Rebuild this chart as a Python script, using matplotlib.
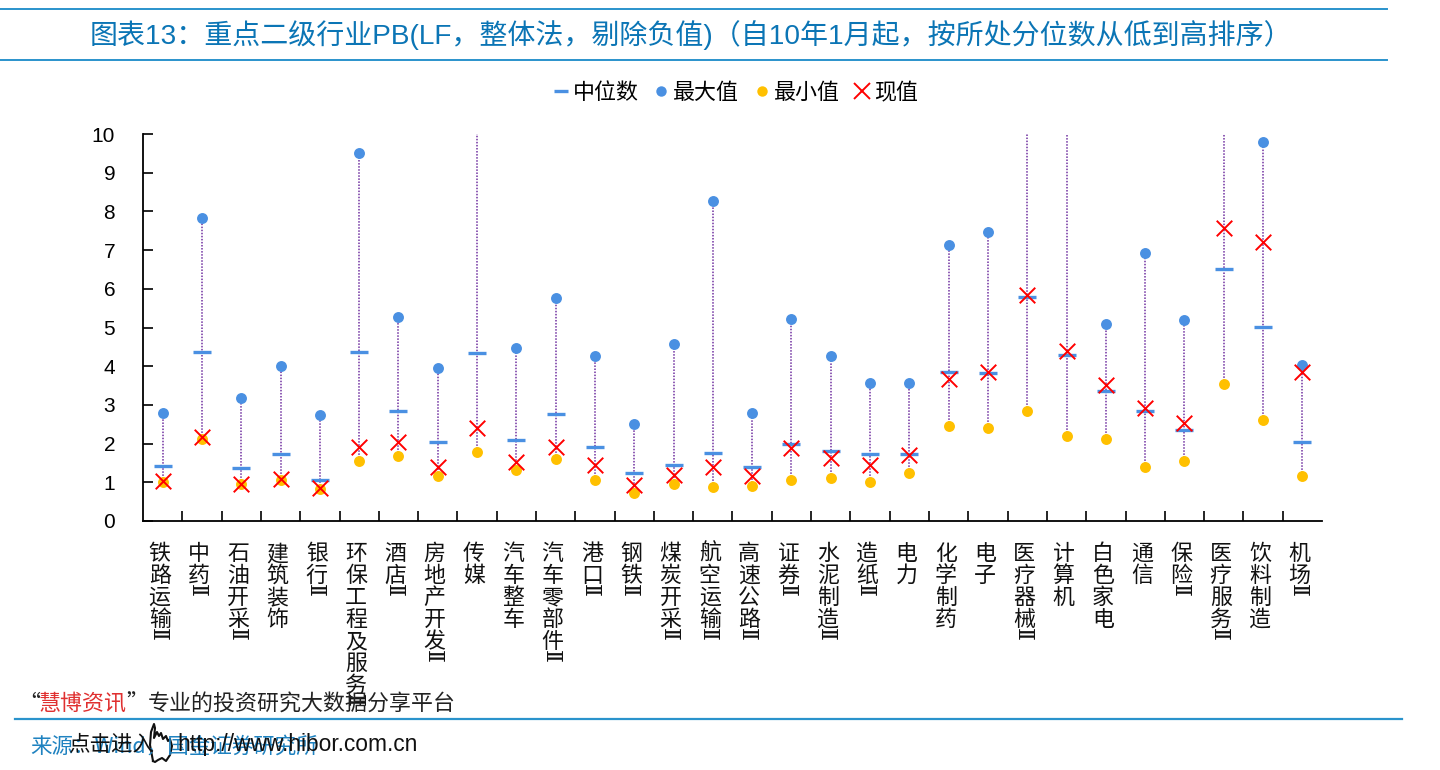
from matplotlib import pyplot as plt
from matplotlib.lines import Line2D

plt.rcParams['font.family'] = ['Noto Sans CJK SC', 'DejaVu Sans']

# the trailing numeral of a name overlaps the character above it, so it is kept apart
names = ['铁路运输', '中药', '石油开采', '建筑装饰', '银行', '环保工程及服务', '酒店', '房地产开发', '传媒', '汽车整车',
         '汽车零部件', '港口', '钢铁', '煤炭开采', '航空运输', '高速公路', '证券', '水泥制造', '造纸', '电力',
         '化学制药', '电子', '医疗器械', '计算机', '白色家电', '通信', '保险', '医疗服务', '饮料制造', '机场']
has_suffix = [1, 1, 1, 0, 1, 1, 1, 1, 0, 0,
              1, 1, 1, 1, 1, 1, 1, 1, 1, 0,
              0, 0, 1, 0, 0, 0, 1, 1, 0, 1]
# 传媒, 医疗器械, 计算机 and 医疗服务 run off the top of the axis
max_vals = [2.8, 7.83, 3.18, 4.0, 2.75, 9.5, 5.27, 3.96, 12, 4.46,
            5.75, 4.27, 2.5, 4.58, 8.28, 2.8, 5.23, 4.27, 3.57, 3.57,
            7.13, 7.47, 12, 12, 5.08, 6.93, 5.2, 12, 9.8, 4.03]
median_vals = [1.42, 4.36, 1.37, 1.72, 1.07, 4.37, 2.85, 2.03, 4.33, 2.1,
               2.77, 1.92, 1.25, 1.45, 1.77, 1.4, 2.0, 1.8, 1.72, 1.72,
               3.85, 3.83, 5.8, 4.3, 3.35, 2.85, 2.35, 6.52, 5.02, 2.03]
min_vals = [1.02, 2.12, 0.95, 1.05, 0.82, 1.55, 1.67, 1.17, 1.78, 1.33,
            1.6, 1.05, 0.72, 0.95, 0.87, 0.9, 1.05, 1.12, 1.02, 1.25,
            2.45, 2.4, 2.83, 2.2, 2.13, 1.4, 1.55, 3.53, 2.62, 1.17]
now_vals = [1.03, 2.17, 0.95, 1.08, 0.85, 1.9, 2.03, 1.4, 2.4, 1.52,
            1.92, 1.45, 0.93, 1.18, 1.4, 1.15, 1.88, 1.63, 1.45, 1.7,
            3.67, 3.85, 5.83, 4.4, 3.52, 2.92, 2.52, 7.57, 7.22, 3.85]
y_ticks = list(range(11))

W, H = 1440, 770
BLUE = '#4a90e2'
LINE = '#2a93cc'
LATIN = ['Liberation Sans', 'Noto Sans CJK SC']


def fx(px):
    return px / W


def fy(px):
    return 1 - px / H


fig = plt.figure(figsize=(W / 100, H / 100), dpi=100)
ax = fig.add_axes([fx(143), fy(521), fx(1322 - 143), (521 - 134) / H])
xs = list(range(len(names)))

ax.vlines(xs, min_vals, max_vals, color='#7030a0', lw=1.1, linestyles=(0, (1, 1)), zorder=1)
ax.scatter(xs, median_vals, marker='_', s=150, color=BLUE, linewidths=2.4, zorder=2)
ax.scatter(xs, max_vals, marker='o', s=62, color=BLUE, linewidths=0, zorder=3)
ax.scatter(xs, min_vals, marker='o', s=62, color='#ffc000', linewidths=0, zorder=3)
ax.scatter(xs, now_vals, marker='x', s=125, color='#ff0000', linewidths=1.4, zorder=4)

ax.set_xlim(-0.5, len(names) - 0.5)
ax.set_ylim(0, 10)
ax.set_yticks(y_ticks)
ax.tick_params(axis='y', direction='in', length=7, width=1.2, labelsize=15, pad=20)
for lab in ax.get_yticklabels():
    lab.set_family(LATIN)
ax.set_xticks([i - 0.5 for i in range(1, len(names))])
ax.set_xticklabels([])
ax.tick_params(axis='x', direction='in', length=7, width=1.2)
ax.spines['top'].set_visible(False)
ax.spines['right'].set_visible(False)
ax.spines['left'].set_linewidth(1.3)
ax.spines['bottom'].set_linewidth(1.3)

# category names, written top to bottom
trans = ax.get_xaxis_transform()
for i, name in enumerate(names):
    y = -33
    for ch in name:
        ax.annotate(ch, xy=(i, 0), xycoords=trans, xytext=(-3, y), textcoords='offset pixels',
                    ha='center', va='center', fontsize=15.8, color='#111111', annotation_clip=False)
        y -= 22
    if has_suffix[i]:
        # the serif numeral on its side gives the boxy shape of the original
        ax.annotate('Ⅱ', xy=(i, 0), xycoords=trans, xytext=(1, y + 10), textcoords='offset pixels',
                    ha='center', va='center', fontsize=16, rotation=90, color='#111111',
                    annotation_clip=False, family='DejaVu Serif')

handles = [
    Line2D([], [], marker='_', ls='', color=BLUE, ms=10.5, mew=2.4),
    Line2D([], [], marker='o', ls='', color=BLUE, ms=7.5, mew=0),
    Line2D([], [], marker='o', ls='', color='#ffc000', ms=7.5, mew=0),
    Line2D([], [], marker='x', ls='', color='#ff0000', ms=11, mew=1.4),
]
fig.legend(handles, ['中位数', '最大值', '最小值', '现值'], ncol=4, frameon=False, fontsize=15.8,
           loc='center', bbox_to_anchor=(fx(734), fy(93)), handletextpad=0.05, columnspacing=0.52,
           handlelength=1.0, borderpad=0, borderaxespad=0)

# title band
fig.add_artist(Line2D([0, fx(1387)], [fy(8.5), fy(8.5)], color=LINE, lw=1.4))
fig.add_artist(Line2D([0, fx(1387)], [fy(60), fy(60)], color=LINE, lw=1.4))
fig.text(fx(90), fy(35), '图表13：重点二级行业PB(LF，整体法，剔除负值)（自10年1月起，按所处分位数从低到高排序）',
         fontsize=20.15, color='#0b75b5', va='center', ha='left', family=LATIN)

# footer
fig.add_artist(Line2D([fx(15), fx(1402)], [fy(718.5), fy(718.5)], color=LINE, lw=1.6))
fig.text(fx(30), fy(747), '来源：Wind，国金证券研究所', fontsize=15.5, color='#1f82c0', va='center', ha='left')
fig.text(fx(18), fy(704), '“', fontsize=15.8, color='#222222', va='center', ha='left')
fig.text(fx(39), fy(704), '慧博资讯', fontsize=15.8, color='#e03030', va='center', ha='left')
fig.text(fx(126), fy(704), '”', fontsize=15.8, color='#222222', va='center', ha='left')
fig.text(fx(148), fy(704), '专业的投资研究大数据分享平台', fontsize=15.8, color='#222222', va='center', ha='left')
fig.text(fx(68), fy(745), '点击进入', fontsize=15.5, color='#111111', va='center', ha='left')
fig.text(fx(177), fy(744), 'http://www.hibor.com.cn', fontsize=16.4, color='#111111', va='center', ha='left',
         family=['Liberation Sans', 'DejaVu Sans'])

# little hand cursor
hand_x = [153, 150, 151, 154, 155, 154, 157, 159, 161, 163, 166, 168, 170, 172, 170, 166, 162, 158, 155, 153]
hand_y = [761, 745, 732, 724, 728, 738, 732, 736, 733, 739, 736, 741, 739, 746, 755, 761, 758, 760, 762, 761]
fig.add_artist(Line2D([fx(v) for v in hand_x], [fy(v) for v in hand_y], color='#111111', lw=1.5))

fig.savefig('out.png', dpi=100)
